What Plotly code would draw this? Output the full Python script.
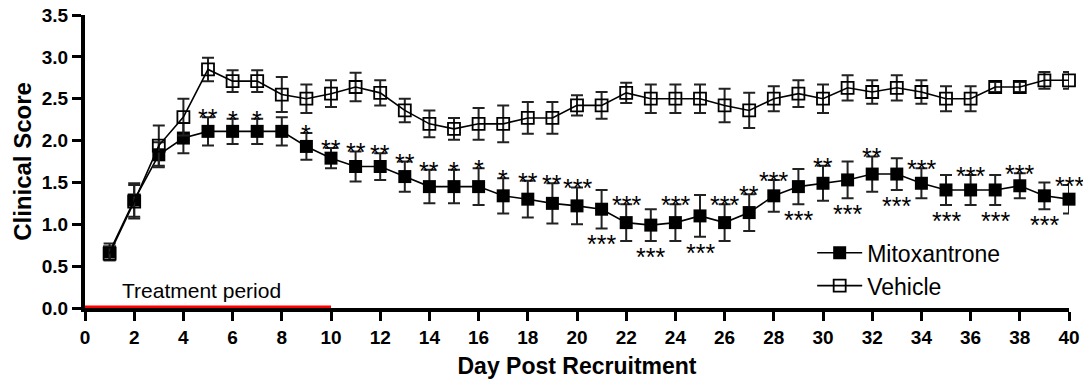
import plotly.graph_objects as go

# Clinical score by day post recruitment (mean ± SEM)
days = list(range(1, 41))

mito_mean = [0.67, 1.29, 1.83, 2.03, 2.11, 2.11, 2.11, 2.11, 1.93, 1.79,
             1.69, 1.69, 1.57, 1.45, 1.45, 1.45, 1.34, 1.30, 1.25, 1.22,
             1.18, 1.02, 0.99, 1.02, 1.10, 1.02, 1.14, 1.34, 1.45, 1.49,
             1.53, 1.60, 1.60, 1.49, 1.41, 1.41, 1.41, 1.46, 1.34, 1.30]
mito_sem = [0.10, 0.20, 0.15, 0.18, 0.17, 0.15, 0.15, 0.17, 0.16, 0.12,
            0.18, 0.16, 0.18, 0.20, 0.20, 0.22, 0.21, 0.22, 0.24, 0.22,
            0.23, 0.22, 0.19, 0.22, 0.25, 0.22, 0.22, 0.19, 0.21, 0.21,
            0.22, 0.21, 0.19, 0.18, 0.18, 0.18, 0.18, 0.15, 0.16, 0.17]

veh_mean = [0.65, 1.27, 1.94, 2.28, 2.85, 2.71, 2.71, 2.55, 2.50, 2.56,
            2.64, 2.57, 2.36, 2.20, 2.14, 2.20, 2.20, 2.27, 2.27, 2.42,
            2.42, 2.57, 2.50, 2.50, 2.50, 2.42, 2.36, 2.50, 2.56, 2.50,
            2.63, 2.58, 2.63, 2.58, 2.50, 2.50, 2.64, 2.64, 2.72, 2.72]
veh_sem = [0.08, 0.20, 0.24, 0.22, 0.14, 0.13, 0.13, 0.21, 0.17, 0.16,
           0.17, 0.15, 0.14, 0.16, 0.13, 0.19, 0.22, 0.19, 0.19, 0.12,
           0.16, 0.12, 0.17, 0.17, 0.17, 0.20, 0.21, 0.15, 0.16, 0.17,
           0.15, 0.14, 0.15, 0.14, 0.15, 0.15, 0.06, 0.06, 0.10, 0.10]

# Significance vs vehicle; side says whether the label sits above or below the point
sig_label = ["", "", "", "", "**", "*", "*", "", "*", "**",
             "**", "**", "**", "**", "*", "*", "*", "**", "**", "***",
             "***", "***", "***", "***", "***", "***", "**", "***", "***", "**",
             "***", "**", "***", "***", "***", "***", "***", "***", "***", "***"]
sig_side = ["", "", "", "", "up", "up", "up", "", "up", "up",
            "up", "up", "up", "up", "up", "up", "up", "up", "up", "up",
            "down", "up", "down", "up", "down", "up", "up", "up", "down", "up",
            "down", "up", "down", "up", "down", "up", "down", "up", "down", "up"]

x_ticks = list(range(0, 41, 2))
y_ticks = [0.0, 0.5, 1.0, 1.5, 2.0, 2.5, 3.0, 3.5]
treatment_days = [0, 10]

FONT = "Liberation Sans, Arial, sans-serif"

fig = go.Figure()

fig.add_trace(go.Scatter(
    x=days, y=mito_mean, name="Mitoxantrone", mode="lines+markers",
    legendgroup="m",
    line=dict(color="black", width=1.6),
    marker=dict(symbol="square", size=13, color="black"),
    error_y=dict(type="data", array=mito_sem, color="#222222", thickness=2, width=6),
    cliponaxis=False,
))
fig.add_trace(go.Scatter(
    x=days, y=veh_mean, name="Vehicle", mode="lines+markers",
    legendgroup="v",
    line=dict(color="black", width=1.6),
    marker=dict(symbol="square-open", size=12, color="black", line=dict(width=1.8)),
    error_y=dict(type="data", array=veh_sem, color="#222222", thickness=2, width=6),
    cliponaxis=False,
))

# Treatment period bar along the x axis
fig.add_trace(go.Scatter(
    x=treatment_days, y=[0, 0], mode="lines", showlegend=False,
    line=dict(color="#ff0000", width=5), cliponaxis=False, hoverinfo="skip",
))

annotations = []
for d, m, s, lab, side in zip(days, mito_mean, mito_sem, sig_label, sig_side):
    if not lab:
        continue
    if side == "up":
        annotations.append(dict(x=d, y=m + s, text=lab, showarrow=False,
                                xref="x", yref="y", yanchor="middle", yshift=-1,
                                font=dict(family=FONT, size=25, color="black")))
    else:
        annotations.append(dict(x=d, y=m - s, text=lab, showarrow=False,
                                xref="x", yref="y", yanchor="middle", yshift=-16,
                                font=dict(family=FONT, size=25, color="black")))

annotations.append(dict(x=4.74, y=0.21, text="Treatment period", showarrow=False,
                        xref="x", yref="y", yanchor="middle",
                        font=dict(family=FONT, size=21, color="black")))
fig.update_layout(annotations=annotations)

fig.update_layout(
    width=1083, height=383,
    margin=dict(l=85, r=14, t=15, b=75),
    paper_bgcolor="white", plot_bgcolor="white",
    font=dict(family=FONT, color="black"),
    showlegend=True,
    legend=dict(x=0.739, y=0.262, xanchor="left", yanchor="top",
                bgcolor="rgba(0,0,0,0)", tracegroupgap=0, itemwidth=45,
                font=dict(family=FONT, size=23, color="black")),
    xaxis=dict(
        range=[0, 40], tickvals=x_ticks, ticktext=[str(t) for t in x_ticks],
        automargin=False,
        showgrid=False, zeroline=False, showline=True, linecolor="black", linewidth=4,
        ticks="outside", ticklen=9, tickwidth=3, tickcolor="black",
        tickfont=dict(family=FONT, size=19, color="black", weight="bold"),
        title=dict(text="Day Post Recruitment", standoff=12,
                   font=dict(family=FONT, size=23, color="black", weight="bold")),
    ),
    yaxis=dict(
        range=[0, 3.5], tickvals=y_ticks, ticktext=[f"{t:.1f}" for t in y_ticks],
        automargin=False,
        showgrid=False, zeroline=False, showline=True, linecolor="black", linewidth=4,
        ticks="outside", ticklen=9, tickwidth=3, tickcolor="black",
        tickfont=dict(family=FONT, size=19, color="black", weight="bold"),
        title=dict(text="Clinical Score", standoff=4,
                   font=dict(family=FONT, size=24, color="black", weight="bold")),
    ),
)

fig.write_html("out.html")
